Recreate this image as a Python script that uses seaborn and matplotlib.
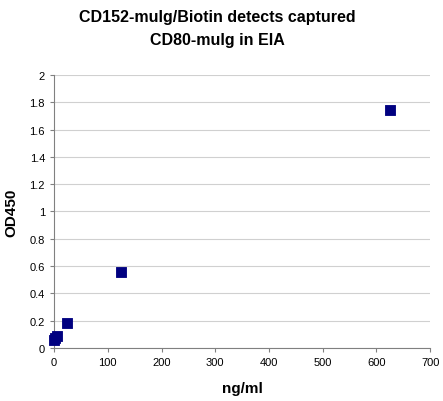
import matplotlib
matplotlib.use("Agg")
import matplotlib.pyplot as plt
import seaborn as sns
import pandas as pd

# concentrations (ng/ml) and OD450 readings
conc = [0.2, 1, 5, 25, 125, 625]
od450 = [0.06, 0.07, 0.09, 0.18, 0.56, 1.74]

sns.set_style("white")
plt.rcParams['font.family'] = ['Liberation Sans', 'DejaVu Sans']
plt.rcParams['text.color'] = 'black'
plt.rcParams['axes.labelcolor'] = 'black'
plt.rcParams['xtick.color'] = 'black'
plt.rcParams['ytick.color'] = 'black'

df = pd.DataFrame({'ng/ml': conc, 'OD450': od450})

fig = plt.figure(figsize=(4.43, 4.02), dpi=100)
ax = fig.add_axes([0.122, 0.132, 0.849, 0.679])

ax.yaxis.grid(True, color='#d0d0d0', linewidth=0.8)
ax.set_axisbelow(True)
sns.scatterplot(data=df, x='ng/ml', y='OD450', ax=ax, marker='s', s=60,
                color='#000080', edgecolor='#000080', zorder=3, clip_on=False)

ax.set_xlim(0, 700)
ax.set_ylim(0, 2)
ax.set_xticks(range(0, 701, 100))
ax.set_yticks([i / 10 for i in range(0, 21, 2)])
ax.set_yticklabels(['0', '0.2', '0.4', '0.6', '0.8', '1', '1.2', '1.4', '1.6', '1.8', '2'])
ax.tick_params(labelsize=8, length=3, direction='out', left=True, bottom=True,
               color='#808080')

for side in ['top', 'right']:
    ax.spines[side].set_visible(False)
for side in ['left', 'bottom']:
    ax.spines[side].set_color('#808080')

ax.set_xlabel('ng/ml', fontsize=11, fontweight='bold', labelpad=10)
ax.set_ylabel('OD450', fontsize=11, fontweight='bold', labelpad=8)
fig.suptitle('CD152-mulg/Biotin detects captured\nCD80-mulg in EIA',
             fontsize=11.5, fontweight='bold', x=0.49, y=0.975, linespacing=1.65)

fig.savefig('out.png', dpi=100)
